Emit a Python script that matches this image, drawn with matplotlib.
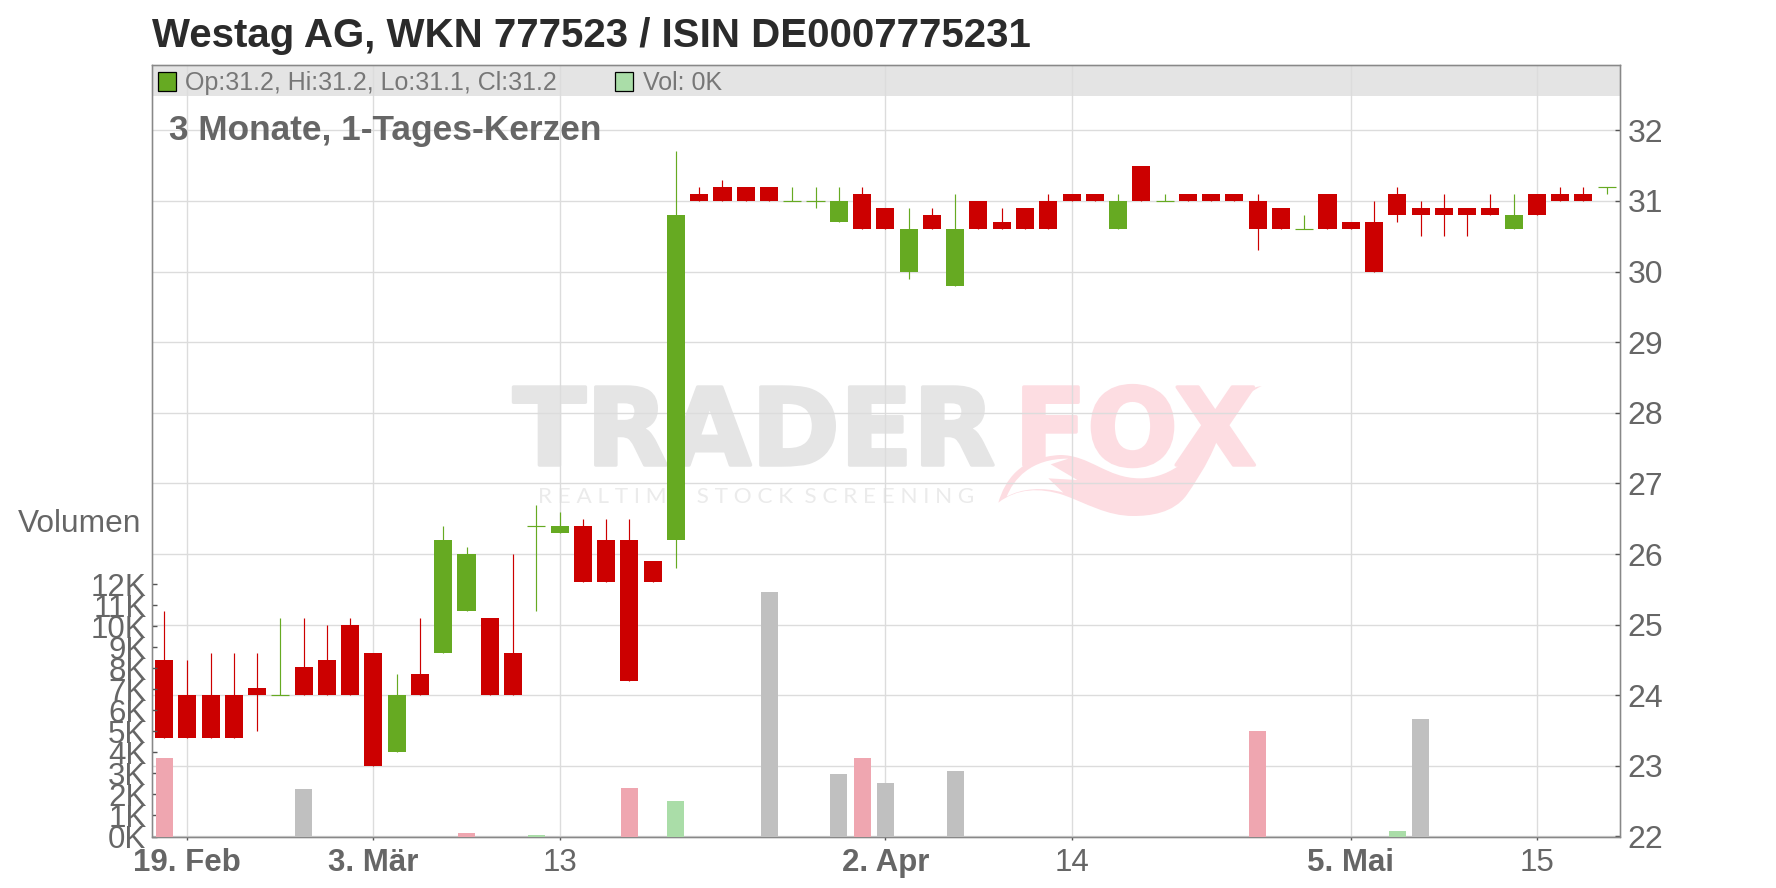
import matplotlib
matplotlib.use('Agg')
import matplotlib.pyplot as plt
import matplotlib.patheffects as pe
from matplotlib.path import Path
from matplotlib.patches import PathPatch, Rectangle
from matplotlib.transforms import Affine2D

TITLE = 'Westag AG, WKN 777523 / ISIN DE0007775231'
SUBTITLE = '3 Monate, 1-Tages-Kerzen'
LEGEND_OHLC = 'Op:31.2, Hi:31.2, Lo:31.1, Cl:31.2'
LEGEND_VOL = 'Vol: 0K'

opens = [24.5, 24.0, 24.0, 24.0, 24.1, 24.0, 24.4, 24.5, 25.0, 24.6,
         23.2, 24.3, 24.6, 25.2, 25.1, 24.6, 26.4, 26.3, 26.4, 26.2,
         26.2, 25.9, 26.2, 31.1, 31.2, 31.2, 31.2, 31.0, 31.0, 30.7,
         31.1, 30.9, 30.0, 30.8, 29.8, 31.0, 30.7, 30.9, 31.0, 31.1,
         31.1, 30.6, 31.5, 31.0, 31.1, 31.1, 31.1, 31.0, 30.9, 30.6,
         31.1, 30.7, 30.7, 31.1, 30.9, 30.9, 30.9, 30.9, 30.6, 31.1,
         31.1, 31.1, 31.2]
highs = [25.2, 24.5, 24.6, 24.6, 24.6, 25.1, 25.1, 25.0, 25.1, 24.6,
         24.3, 25.1, 26.4, 26.1, 25.1, 26.0, 26.7, 26.6, 26.5, 26.5,
         26.5, 25.9, 31.7, 31.2, 31.3, 31.2, 31.2, 31.2, 31.2, 31.2,
         31.2, 30.9, 30.9, 30.9, 31.1, 31.0, 30.9, 30.9, 31.1, 31.1,
         31.1, 31.1, 31.5, 31.1, 31.1, 31.1, 31.1, 31.1, 30.9, 30.8,
         31.1, 30.7, 31.0, 31.2, 31.0, 31.1, 30.9, 31.1, 31.1, 31.1,
         31.2, 31.2, 31.2]
lows = [23.4, 23.4, 23.4, 23.4, 23.5, 24.0, 24.0, 24.0, 24.0, 23.0,
        23.2, 24.0, 24.6, 25.2, 24.0, 24.0, 25.2, 26.3, 25.6, 25.6,
        24.2, 25.6, 25.8, 31.0, 31.0, 31.0, 31.0, 31.0, 30.9, 30.7,
        30.6, 30.6, 29.9, 30.6, 29.8, 30.6, 30.6, 30.6, 30.6, 31.0,
        31.0, 30.6, 31.0, 31.0, 31.0, 31.0, 31.0, 30.3, 30.6, 30.6,
        30.6, 30.6, 30.0, 30.7, 30.5, 30.5, 30.5, 30.8, 30.6, 30.8,
        31.0, 31.0, 31.1]
closes = [23.4, 23.4, 23.4, 23.4, 24.0, 24.0, 24.0, 24.0, 24.0, 23.0,
          24.0, 24.0, 26.2, 26.0, 24.0, 24.0, 26.4, 26.4, 25.6, 25.6,
          24.2, 25.6, 30.8, 31.0, 31.0, 31.0, 31.0, 31.0, 31.0, 31.0,
          30.6, 30.6, 30.6, 30.6, 30.6, 30.6, 30.6, 30.6, 30.6, 31.0,
          31.0, 31.0, 31.0, 31.0, 31.0, 31.0, 31.0, 30.6, 30.6, 30.6,
          30.6, 30.6, 30.0, 30.8, 30.8, 30.8, 30.8, 30.8, 30.8, 30.8,
          31.0, 31.0, 31.2]

volume_days = [0, 6, 13, 16, 20, 22, 26, 29, 30, 31, 34, 47, 53, 54]
volumes = [3.74, 2.26, 0.17, 0.07, 2.3, 1.7, 11.64, 2.98, 3.74, 2.55, 3.12, 5.02, 0.26, 5.6]
volume_kinds = ['down', 'flat', 'down', 'up', 'down', 'up', 'flat', 'flat',
                'down', 'flat', 'flat', 'down', 'up', 'flat']

price_ticks = [22, 23, 24, 25, 26, 27, 28, 29, 30, 31, 32]
volume_ticks = [0, 1, 2, 3, 4, 5, 6, 7, 8, 9, 10, 11, 12]
date_ticks = [1, 9, 17, 31, 39, 51, 59]
date_labels = ['19. Feb', '3. Mär', '13', '2. Apr', '14', '5. Mai', '15']
date_bold = [True, True, False, True, False, True, False]

RED = '#cc0000'
GREEN = '#66aa22'
TEXT = '#666666'
GRID = '#dcdcdc'
AXIS = '#888888'
LOGO_GRAY = '#e5e5e5'
LOGO_PINK = '#fddde2'
VOLUME_COLORS = {'down': '#efa6b0', 'up': '#aadda8', 'flat': '#c0c0c0'}

W, H = 1776, 888
LEFT, RIGHT, TOP, BOTTOM = 152, 1620, 65.3, 836.5

plt.rcParams['font.family'] = 'Liberation Sans'

# everything outside the data axes is placed in image pixels, y going down
px = Affine2D().scale(1, -1).translate(0, H)
logo = Affine2D().scale(1 / 3).translate(980, 370) + px


def draw_watermark(ax):
    for x, word, color in [(513, 'TRADER', LOGO_GRAY), (1014, 'FOX', LOGO_PINK)]:
        t = ax.text(x, 465, word, transform=px, family='DejaVu Sans', weight='bold',
                    fontsize=77, color=color, zorder=1, clip_on=False)
        t.set_path_effects([pe.withStroke(linewidth=2.5, foreground=color)])
    ax.text(538, 503, 'R E A L T I M E  S T O C K  S C R E E N I N G', transform=px,
            family='Lato', fontsize=16.2, color='#ebebeb', zorder=1, clip_on=False)

    tail = [(55, 398), (75, 330), (120, 262), (240, 255), (330, 255), (380, 325), (480, 325),
            (580, 325), (650, 250), (690, 180), (730, 110), (770, 60), (845, 48),
            (790, 75), (740, 120), (710, 215), (680, 290), (640, 345), (620, 375),
            (580, 430), (510, 438), (460, 438), (380, 438), (320, 400), (250, 375),
            (180, 352), (110, 355), (55, 398)]
    codes = [Path.MOVETO] + [Path.CURVE4] * (len(tail) - 1)
    ax.add_patch(PathPatch(Path(tail, codes), transform=logo, facecolor=LOGO_PINK,
                           edgecolor='none', zorder=1, clip_on=False))
    cut = [(80, 380), (100, 330), (150, 265), (265, 266), (212, 283), (292, 330), (205, 325),
           (250, 368), (190, 350), (125, 355), (80, 380)]
    cut_codes = [Path.MOVETO] + [Path.CURVE4] * 3 + [Path.LINETO] * 4 + [Path.CURVE4] * 3
    ax.add_patch(PathPatch(Path(cut, cut_codes), transform=logo, facecolor='white',
                           edgecolor='none', zorder=1.1, clip_on=False))


def draw_candles(ax):
    for i, (o, h, l, c) in enumerate(zip(opens, highs, lows, closes)):
        color = RED if c < o else GREEN
        ax.vlines(i, l, h, color=color, linewidth=0.85, zorder=3)
        if o == c:
            ax.hlines(o, i - 0.39, i + 0.39, color=color, linewidth=0.85, zorder=3)
        else:
            ax.bar(i, abs(o - c), bottom=min(o, c), width=0.775, color=color, linewidth=0, zorder=4)


def draw_volume(ax):
    colors = [VOLUME_COLORS[k] for k in volume_kinds]
    ax.bar(volume_days, volumes, width=0.73, color=colors, linewidth=0, zorder=3)


def style_spines(ax):
    for spine in ax.spines.values():
        spine.set_color(AXIS)
        spine.set_linewidth(0.95)


def main():
    fig = plt.figure(figsize=(W / 100, H / 100), dpi=100)
    rect = [LEFT / W, 1 - BOTTOM / H, (RIGHT - LEFT) / W, (BOTTOM - TOP) / H]
    ax_price = fig.add_axes(rect)
    ax_vol = ax_price.twinx()

    ax_price.set_xlim(-0.516, 62.57)
    ax_price.set_ylim(22, 32.92)
    ax_vol.set_ylim(0, 36.72)

    ax_price.add_patch(Rectangle((0, 1 - (96 - TOP) / (BOTTOM - TOP)), 1, (96 - TOP) / (BOTTOM - TOP),
                                 transform=ax_price.transAxes, facecolor='#e4e4e4',
                                 edgecolor='none', zorder=1))
    draw_watermark(ax_price)
    ax_price.grid(True, color=GRID, linewidth=1.0, zorder=1.5)
    draw_candles(ax_price)
    draw_volume(ax_vol)

    ax_price.yaxis.tick_right()
    ax_price.set_yticks(price_ticks)
    ax_price.tick_params(axis='y', direction='in', length=3.5, width=1, color='#555555',
                         labelsize=23, labelcolor=TEXT, pad=5.5)
    ax_price.set_xticks(date_ticks)
    ax_price.set_xticklabels(date_labels)
    ax_price.tick_params(axis='x', direction='out', length=2.5, width=1, color='#555555',
                         labelsize=22.5, labelcolor=TEXT, pad=5.5)
    for label, bold in zip(ax_price.get_xticklabels(), date_bold):
        if bold:
            label.set_fontweight('bold')

    ax_vol.yaxis.tick_left()
    ax_vol.set_yticks(volume_ticks)
    ax_vol.set_yticklabels(['{}K'.format(v) for v in volume_ticks])
    ax_vol.tick_params(axis='y', direction='in', length=3.5, width=1, color='#555555',
                       labelsize=22.5, labelcolor=TEXT, pad=4)
    style_spines(ax_price)
    style_spines(ax_vol)

    fig.text(151.5, 46.7, TITLE, transform=px, fontsize=28.95, weight='bold', color='#2b2b2b')
    fig.text(169, 140, SUBTITLE, transform=px, fontsize=25.4, weight='bold', color=TEXT)
    fig.text(18, 531.7, 'Volumen', transform=px, fontsize=22.8, color=TEXT)
    fig.text(185, 89.5, LEGEND_OHLC, transform=px, fontsize=18, color='#777777')
    fig.text(642.7, 89.5, LEGEND_VOL, transform=px, fontsize=18, color='#777777')
    fig.add_artist(Rectangle((157.5, 72), 18.5, 18.5, transform=px, facecolor=GREEN,
                             edgecolor='black', linewidth=0.9))
    fig.add_artist(Rectangle((614.5, 72), 18.5, 18.5, transform=px, facecolor='#aadda8',
                             edgecolor='black', linewidth=0.9))

    fig.savefig('out.png', dpi=100)


if __name__ == '__main__':
    main()
